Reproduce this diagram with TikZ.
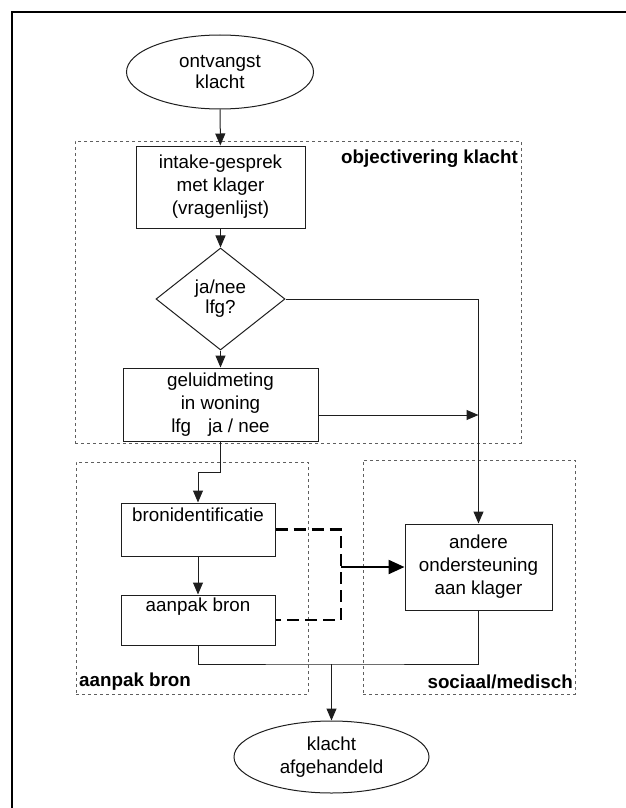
\documentclass[tikz,border=0pt]{standalone}
\usepackage{fontspec}
\setmainfont{Liberation Sans}
\usetikzlibrary{arrows.meta,shapes.geometric}
\definecolor{LineGray}{RGB}{30,30,30}
\definecolor{FrameGray}{RGB}{95,95,95}
\tikzset{
  endpoint/.style={draw=LineGray,ellipse,inner sep=0pt,align=center,line width=1pt},
  stepbox/.style={draw=LineGray,rectangle,inner sep=0pt,align=center,line width=1pt},
  choice/.style={draw=LineGray,diamond,aspect=1.3,inner sep=0pt,align=center,line width=1pt},
  groupbox/.style={draw=FrameGray,dash pattern=on 3pt off 3pt,line width=0.8pt,
    rectangle,inner sep=0pt},
  grouplabel/.style={font=\fontsize{18.8}{23}\selectfont\bfseries,inner sep=1pt},
  flowarrow/.style={-{Triangle[length=12pt,width=10pt]},line width=1pt,draw=LineGray},
  flowline/.style={line width=1pt,draw=LineGray},
  sourcelink/.style={line width=2.2pt,dash pattern=on 12pt off 6pt,draw=black},
  mainarrow/.style={-{Triangle[length=16pt,width=14pt]},line width=2.3pt,draw=black},
}

\begin{document}
\begin{tikzpicture}[x=1pt,y=-1pt,font=\fontsize{18.8}{23}\selectfont]
\useasboundingbox (0,0) rectangle (626,808);
\draw[line width=2pt] (12,808) -- (12,12) -- (626,12);

% werkgebieden
\node[groupbox,minimum width=446pt,minimum height=302pt] (objgrp) at (298,292) {};
\node[groupbox,minimum width=232pt,minimum height=232pt] (brongrp) at (192,578) {};
\node[groupbox,minimum width=212pt,minimum height=234pt] (socgrp) at (469,577) {};
\node[grouplabel,anchor=east] (objlabel) at (519,159) {objectivering klacht};
\node[grouplabel,anchor=west] (bronlabel) at (78,682) {aanpak bron};
\node[grouplabel,anchor=east] (soclabel) at (574,682) {sociaal/medisch};

% stappen
\node[endpoint,minimum width=187pt,minimum height=74pt] (start) at (220,72) {ontvangst\\[-2pt]klacht};
\node[stepbox,minimum width=169pt,minimum height=82pt] (intake) at (220.5,187) {intake-gesprek\\met klager\\(vragenlijst)};
\node[choice,minimum width=129pt,minimum height=102pt] (lfg) at (220.5,299) {ja/nee\\[-3pt]lfg?};
\node[stepbox,minimum width=195pt,minimum height=73pt] (meting) at (220.5,404.5) {geluidmeting\\in woning\\lfg\hspace{0.9em}ja / nee};
\node[stepbox,minimum width=154pt,minimum height=53pt] (bron) at (198,529.5) {bronidentificatie\\\strut};
\node[stepbox,minimum width=154pt,minimum height=50pt] (aanpak) at (198,620) {aanpak bron\\\strut};
\node[stepbox,minimum width=147pt,minimum height=86pt] (andere) at (478.5,567) {andere\\ondersteuning\\aan klager};
\node[endpoint,minimum width=195pt,minimum height=72pt] (einde) at (331.5,757) {klacht\\afgehandeld};

\coordinate (meetin) at (478.5,415);
\coordinate (split) at (341,567);
\coordinate (merge) at (331.5,664);

% verbindingen
\draw[flowarrow] (start) -- (intake);
\draw[flowarrow] (intake) -- (lfg);
\draw[flowarrow] (lfg) -- (meting);
\draw[flowarrow] (lfg.east) -| (andere.north);
\draw[flowarrow] (meting.east |- meetin) -- (meetin);
\draw[flowarrow] (meting.south) -- ++(0,31) -| (bron.north);
\draw[flowarrow] (bron) -- (aanpak);
\draw[sourcelink] (bron.east) -| (split) |- (aanpak.east);
\draw[mainarrow] (split) -- (andere.west);
\draw[flowline] (aanpak.south) |- (merge) -| (andere.south);
\draw[flowarrow] (merge) -- (einde.north);
\end{tikzpicture}
\end{document}
